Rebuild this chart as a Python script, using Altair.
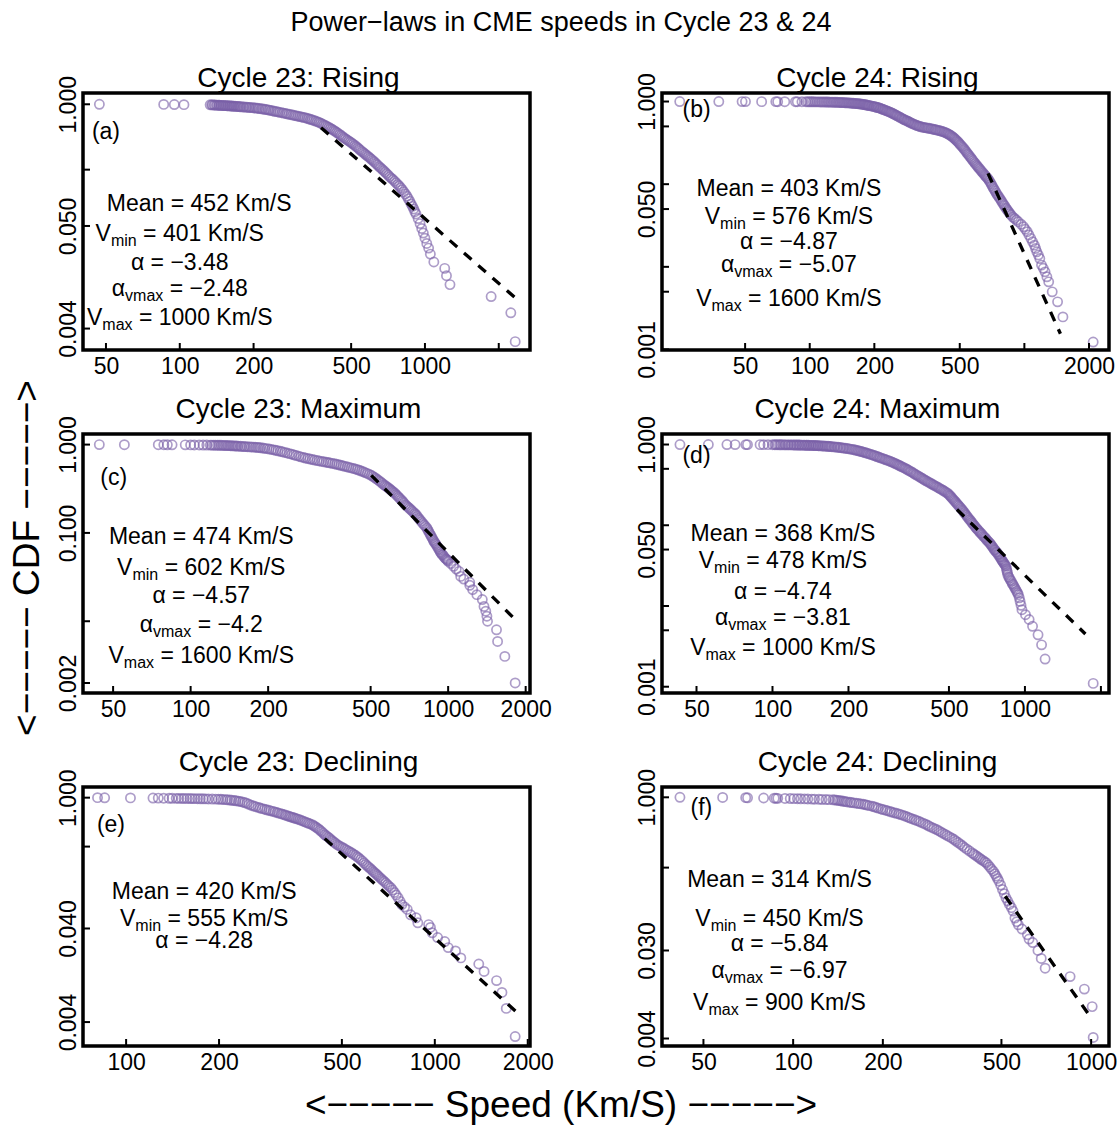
import altair as alt
import pandas as pd

FONT = "Liberation Sans"
PURPLE = "#7a61a8"

# ---------------- Panel (a): Cycle 23 Rising  (speed km/s, CDF) ----------------
points_a = [
    (47, 1.000), (86, 0.997), (95, 0.994), (104, 0.991), (133, 0.988), (135, 0.986), (136, 0.985),
    (138, 0.983), (139, 0.982), (141, 0.980), (142, 0.979), (144, 0.977), (145, 0.976), (147, 0.974),
    (148, 0.973), (150, 0.971), (151, 0.970), (153, 0.968), (154, 0.967), (156, 0.965), (157, 0.964),
    (159, 0.962), (160, 0.961), (162, 0.959), (163, 0.958), (165, 0.956), (166, 0.955), (168, 0.952),
    (170, 0.950), (172, 0.947), (174, 0.945), (176, 0.942), (178, 0.940), (181, 0.937), (183, 0.935),
    (186, 0.932), (188, 0.930), (191, 0.927), (193, 0.925), (196, 0.921), (199, 0.918), (202, 0.914),
    (205, 0.910), (208, 0.905), (211, 0.900), (215, 0.895), (218, 0.890), (222, 0.884), (225, 0.878),
    (229, 0.872), (232, 0.866), (236, 0.857), (240, 0.848), (244, 0.841), (248, 0.835), (252, 0.827),
    (256, 0.820), (261, 0.812), (265, 0.805), (270, 0.797), (274, 0.790), (279, 0.782), (284, 0.775),
    (289, 0.767), (294, 0.760), (299, 0.752), (304, 0.745), (309, 0.738), (314, 0.732), (319, 0.725),
    (324, 0.718), (330, 0.709), (335, 0.700), (341, 0.691), (346, 0.682), (352, 0.672), (358, 0.662),
    (364, 0.651), (370, 0.640), (376, 0.627), (382, 0.615), (388, 0.602), (394, 0.590), (400, 0.577),
    (406, 0.565), (412, 0.552), (418, 0.540), (424, 0.527), (430, 0.515), (436, 0.502), (442, 0.490),
    (449, 0.476), (455, 0.463), (462, 0.450), (468, 0.437), (475, 0.426), (482, 0.415), (489, 0.405),
    (496, 0.395), (503, 0.385), (510, 0.375), (518, 0.363), (525, 0.352), (533, 0.341), (540, 0.330),
    (548, 0.320), (556, 0.310), (564, 0.301), (572, 0.292), (580, 0.283), (588, 0.275), (597, 0.266),
    (605, 0.258), (614, 0.250), (622, 0.242), (631, 0.233), (640, 0.225), (649, 0.217), (658, 0.210),
    (668, 0.203), (677, 0.196), (687, 0.189), (697, 0.182), (708, 0.175), (718, 0.168), (729, 0.162),
    (740, 0.157), (751, 0.151), (762, 0.145), (774, 0.139), (785, 0.134), (797, 0.128), (808, 0.122),
    (820, 0.116), (832, 0.110), (844, 0.104), (855, 0.098), (867, 0.092), (878, 0.086), (889, 0.081),
    (900, 0.076), (910, 0.071), (920, 0.067), (938, 0.060), (955, 0.053), (970, 0.047), (985, 0.042),
    (1000, 0.037), (1017, 0.0325), (1035, 0.0290), (1052, 0.0250), (1087, 0.0206), (1204, 0.0176),
    (1224, 0.0147), (1265, 0.0118), (1862, 0.0088), (2240, 0.0059), (2334, 0.0029)]
fit_a = [(377, 0.562), (2351, 0.0084)]

# ---------------- Panel (b): Cycle 24 Rising ----------------
points_b = [
    (24.8, 1.000), (37.7, 0.999), (48.4, 0.998), (50.2, 0.998), (59.7, 0.997), (69.5, 0.997),
    (70.9, 0.996), (76.5, 0.996), (85.8, 0.995), (87.5, 0.995), (92, 0.994), (96, 0.994), (98, 0.993),
    (100, 0.993), (102, 0.992), (104, 0.992), (106, 0.991), (108, 0.991), (110, 0.990), (112, 0.989),
    (114, 0.989), (116, 0.988), (118, 0.987), (120, 0.986), (122, 0.985), (124, 0.984), (126, 0.983),
    (128, 0.982), (130, 0.981), (132, 0.980), (134, 0.978), (136, 0.977), (138, 0.975), (140, 0.974),
    (142, 0.972), (144, 0.970), (146, 0.968), (148, 0.966), (150, 0.964), (152, 0.962), (154, 0.960),
    (156, 0.957), (158, 0.955), (160, 0.952), (162, 0.950), (164, 0.947), (166, 0.944), (168, 0.941),
    (170, 0.938), (172, 0.934), (174, 0.931), (176, 0.927), (178, 0.922), (180, 0.917), (182, 0.912),
    (184, 0.907), (186, 0.903), (188, 0.898), (190, 0.893), (193, 0.886), (195, 0.880), (198, 0.873),
    (200, 0.866), (203, 0.859), (205, 0.852), (208, 0.845), (210, 0.838), (213, 0.829), (215, 0.820),
    (218, 0.810), (220, 0.800), (223, 0.790), (226, 0.780), (229, 0.770), (232, 0.760), (235, 0.749),
    (238, 0.738), (241, 0.727), (244, 0.715), (247, 0.704), (250, 0.692), (253, 0.681), (256, 0.670),
    (260, 0.657), (263, 0.645), (267, 0.632), (270, 0.620), (274, 0.610), (277, 0.600), (281, 0.591),
    (284, 0.582), (288, 0.573), (291, 0.565), (295, 0.555), (299, 0.545), (303, 0.536), (307, 0.528),
    (312, 0.520), (316, 0.512), (321, 0.506), (325, 0.500), (330, 0.495), (335, 0.490), (340, 0.486),
    (345, 0.483), (350, 0.480), (355, 0.477), (360, 0.474), (366, 0.470), (371, 0.466), (377, 0.462),
    (383, 0.458), (388, 0.454), (394, 0.450), (400, 0.446), (406, 0.441), (412, 0.436), (418, 0.431),
    (424, 0.425), (430, 0.419), (436, 0.413), (441, 0.406), (447, 0.398), (452, 0.390), (458, 0.382),
    (463, 0.373), (469, 0.364), (474, 0.354), (480, 0.344), (485, 0.334), (491, 0.324), (496, 0.313),
    (502, 0.303), (508, 0.293), (514, 0.283), (520, 0.273), (526, 0.263), (532, 0.253), (538, 0.243),
    (544, 0.234), (550, 0.226), (556, 0.217), (563, 0.209), (569, 0.201), (576, 0.193), (583, 0.185),
    (590, 0.178), (597, 0.171), (604, 0.165), (611, 0.159), (618, 0.154), (625, 0.148), (632, 0.143),
    (640, 0.138), (647, 0.133), (655, 0.128), (662, 0.124), (670, 0.120), (677, 0.116), (685, 0.111),
    (692, 0.106), (700, 0.101), (707, 0.096), (715, 0.091), (722, 0.087), (730, 0.083), (738, 0.079),
    (746, 0.075), (755, 0.072), (763, 0.069), (772, 0.066), (781, 0.063), (790, 0.060), (799, 0.057),
    (808, 0.055), (818, 0.052), (827, 0.050), (837, 0.048), (847, 0.046), (857, 0.044), (868, 0.0423),
    (884, 0.040), (900, 0.0385), (918, 0.0368), (937, 0.0351), (965, 0.0328), (992, 0.0305),
    (1010, 0.0285), (1031, 0.0266), (1050, 0.0243), (1071, 0.0221), (1092, 0.0201), (1113, 0.0183),
    (1128, 0.0167), (1143, 0.0152), (1162, 0.0139), (1180, 0.0126), (1202, 0.0105), (1225, 0.0096),
    (1248, 0.0087), (1273, 0.00757), (1298, 0.00658), (1348, 0.00498), (1428, 0.00377),
    (1512, 0.00248), (2092, 0.00123)]
fit_b = [(677, 0.135), (1472, 0.00155)]

# ---------------- Panel (c): Cycle 23 Maximum ----------------
points_c = [
    (44.2, 1.000), (55.3, 0.998), (74.9, 0.997), (78.7, 0.996), (81.2, 0.995), (84.7, 0.994),
    (95.3, 0.993), (100, 0.992), (103.3, 0.991), (108, 0.990), (111.8, 0.989), (115.5, 0.988),
    (119.2, 0.987), (121, 0.986), (123.1, 0.985), (125, 0.984), (127.2, 0.983), (129, 0.982),
    (131.2, 0.981), (133, 0.980), (135, 0.978), (137, 0.976), (139, 0.975), (141, 0.973), (143, 0.971),
    (145, 0.969), (147, 0.967), (149, 0.965), (151, 0.963), (153, 0.960), (156, 0.957), (158, 0.954),
    (161, 0.951), (163, 0.948), (166, 0.945), (169, 0.942), (172, 0.939), (175, 0.936), (178, 0.933),
    (181, 0.930), (184, 0.926), (187, 0.920), (191, 0.914), (194, 0.907), (198, 0.900), (202, 0.891),
    (206, 0.882), (210, 0.872), (214, 0.862), (218, 0.851), (223, 0.840), (227, 0.828), (232, 0.815),
    (237, 0.803), (242, 0.790), (247, 0.778), (252, 0.765), (257, 0.752), (263, 0.738), (268, 0.726),
    (274, 0.714), (279, 0.704), (285, 0.695), (291, 0.686), (297, 0.677), (303, 0.668), (310, 0.660),
    (316, 0.652), (323, 0.645), (329, 0.638), (336, 0.632), (342, 0.626), (348, 0.620), (355, 0.613),
    (362, 0.606), (369, 0.598), (376, 0.590), (383, 0.583), (390, 0.575), (397, 0.567), (405, 0.560),
    (412, 0.552), (420, 0.545), (428, 0.537), (436, 0.530), (444, 0.521), (452, 0.512), (460, 0.502),
    (468, 0.493), (476, 0.482), (485, 0.472), (494, 0.460), (503, 0.449), (510, 0.437), (518, 0.425),
    (525, 0.412), (533, 0.400), (540, 0.388), (548, 0.376), (555, 0.364), (563, 0.352), (570, 0.343),
    (577, 0.334), (584, 0.325), (591, 0.317), (598, 0.308), (605, 0.300), (612, 0.291), (620, 0.283),
    (627, 0.273), (635, 0.263), (642, 0.254), (650, 0.245), (658, 0.236), (666, 0.227), (674, 0.218),
    (682, 0.209), (690, 0.202), (699, 0.196), (707, 0.190), (716, 0.184), (724, 0.178), (733, 0.172),
    (742, 0.166), (751, 0.161), (759, 0.154), (768, 0.147), (777, 0.141), (787, 0.135), (796, 0.129),
    (806, 0.124), (816, 0.119), (826, 0.114), (833, 0.109), (840, 0.104), (847, 0.099), (854, 0.095),
    (861, 0.091), (868, 0.087), (875, 0.083), (881, 0.080), (888, 0.077), (895, 0.075), (903, 0.072),
    (910, 0.069), (918, 0.066), (925, 0.064), (932, 0.061), (939, 0.059), (947, 0.057), (955, 0.056),
    (963, 0.054), (972, 0.052), (980, 0.051), (987, 0.050), (994, 0.049), (1001, 0.0477),
    (1025, 0.045), (1050, 0.0419), (1075, 0.039), (1102, 0.0367), (1119, 0.0322), (1150, 0.0300),
    (1213, 0.0276), (1213, 0.0255), (1245, 0.0228), (1293, 0.0200), (1357, 0.0176), (1378, 0.0147),
    (1400, 0.0130), (1414, 0.0114), (1422, 0.0100), (1541, 0.0080), (1556, 0.0059), (1660, 0.0040),
    (1821, 0.0020)]
fit_c = [(503, 0.449), (1839, 0.01016)]

# ---------------- Panel (d): Cycle 24 Maximum ----------------
points_d = [
    (43, 1.000), (55.7, 0.999), (66, 0.999), (71.1, 0.998), (78.4, 0.998), (79.6, 0.997),
    (89.3, 0.997), (92.2, 0.996), (96, 0.996), (100, 0.995), (102, 0.995), (103.3, 0.994),
    (105, 0.994), (106.7, 0.993), (108, 0.993), (110, 0.992), (112, 0.991), (113, 0.991), (115, 0.990),
    (116, 0.990), (118, 0.989), (119, 0.989), (121, 0.988), (122, 0.988), (124, 0.987), (125, 0.986),
    (127, 0.985), (128, 0.985), (130, 0.984), (131, 0.983), (133, 0.982), (134, 0.981), (136, 0.980),
    (137, 0.979), (139, 0.978), (140, 0.977), (142, 0.976), (143, 0.975), (145, 0.974), (146, 0.973),
    (148, 0.971), (149, 0.970), (151, 0.968), (152, 0.967), (154, 0.965), (156, 0.963), (158, 0.961),
    (160, 0.958), (162, 0.956), (164, 0.953), (166, 0.950), (168, 0.947), (170, 0.944), (172, 0.940),
    (175, 0.936), (177, 0.932), (180, 0.928), (182, 0.923), (185, 0.918), (187, 0.913), (190, 0.908),
    (192, 0.902), (195, 0.897), (198, 0.891), (201, 0.884), (204, 0.877), (207, 0.870), (210, 0.862),
    (213, 0.854), (216, 0.845), (219, 0.836), (222, 0.827), (225, 0.818), (228, 0.808), (231, 0.799),
    (234, 0.789), (237, 0.780), (240, 0.770), (244, 0.759), (247, 0.748), (251, 0.737), (254, 0.726),
    (258, 0.715), (261, 0.704), (265, 0.694), (268, 0.683), (272, 0.673), (276, 0.662), (280, 0.652),
    (284, 0.641), (288, 0.631), (292, 0.621), (296, 0.610), (300, 0.599), (304, 0.588), (308, 0.577),
    (312, 0.566), (316, 0.555), (320, 0.545), (324, 0.534), (328, 0.524), (333, 0.513), (337, 0.502),
    (342, 0.490), (346, 0.479), (351, 0.468), (355, 0.458), (360, 0.447), (364, 0.436), (369, 0.425),
    (374, 0.415), (379, 0.405), (384, 0.395), (389, 0.386), (394, 0.376), (399, 0.367), (404, 0.358),
    (410, 0.350), (415, 0.342), (421, 0.334), (426, 0.326), (432, 0.319), (437, 0.312), (443, 0.305),
    (449, 0.298), (455, 0.291), (461, 0.284), (467, 0.278), (473, 0.271), (479, 0.265), (485, 0.258),
    (492, 0.252), (497, 0.244), (502, 0.236), (507, 0.229), (512, 0.221), (517, 0.213), (522, 0.206),
    (527, 0.199), (532, 0.193), (537, 0.186), (542, 0.180), (547, 0.174), (553, 0.168), (558, 0.162),
    (564, 0.156), (569, 0.150), (575, 0.144), (580, 0.138), (586, 0.133), (591, 0.128), (597, 0.123),
    (603, 0.118), (609, 0.114), (615, 0.109), (621, 0.105), (627, 0.101), (634, 0.097), (640, 0.093),
    (646, 0.090), (652, 0.087), (659, 0.084), (665, 0.081), (672, 0.079), (678, 0.076), (685, 0.073),
    (692, 0.071), (699, 0.069), (705, 0.066), (712, 0.064), (719, 0.062), (726, 0.060), (732, 0.058),
    (738, 0.056), (744, 0.054), (750, 0.052), (756, 0.050), (762, 0.049), (768, 0.047), (775, 0.046),
    (781, 0.044), (788, 0.043), (794, 0.041), (800, 0.040), (805, 0.038), (810, 0.037), (815, 0.036),
    (820, 0.035), (825, 0.034), (830, 0.033), (836, 0.032), (841, 0.031), (845, 0.029), (848, 0.0275),
    (852, 0.026), (855, 0.0245), (862, 0.023), (868, 0.0222), (875, 0.021), (883, 0.0202),
    (890, 0.019), (897, 0.0184), (905, 0.0175), (912, 0.0167), (920, 0.016), (927, 0.0152),
    (935, 0.0145), (942, 0.0138), (950, 0.0126), (957, 0.0114), (965, 0.0102), (973, 0.0090),
    (1005, 0.0078), (1039, 0.0068), (1072, 0.0056), (1127, 0.0044), (1164, 0.0033), (1202, 0.0022),
    (1864, 0.0011)]
fit_d = [(538, 0.1566), (1736, 0.0045)]

# ---------------- Panel (e): Cycle 23 Declining ----------------
points_e = [
    (80.8, 1.000), (85.2, 0.997), (103.3, 0.994), (122.2, 0.991), (127.1, 0.989), (132.3, 0.987),
    (137.8, 0.985), (141, 0.984), (145.3, 0.983), (148, 0.982), (151.2, 0.981), (154, 0.980),
    (157.4, 0.979), (161, 0.978), (163.9, 0.977), (167, 0.976), (170.5, 0.975), (174, 0.973),
    (177.5, 0.972), (181, 0.970), (184.8, 0.969), (190, 0.967), (195, 0.965), (199, 0.962),
    (202.8, 0.960), (206, 0.956), (210, 0.952), (213, 0.948), (217, 0.943), (220, 0.938), (224, 0.932),
    (227, 0.925), (231, 0.918), (234, 0.910), (238, 0.900), (242, 0.886), (246, 0.870), (250, 0.850),
    (254.6, 0.828), (259, 0.814), (263, 0.800), (268, 0.787), (272, 0.775), (276, 0.763), (281, 0.752),
    (285, 0.742), (290, 0.733), (294, 0.723), (299, 0.714), (303, 0.704), (308, 0.694), (312, 0.684),
    (317, 0.675), (321, 0.665), (326, 0.656), (330, 0.646), (335, 0.636), (339, 0.628), (343, 0.620),
    (347, 0.613), (351, 0.606), (355, 0.598), (360, 0.590), (365, 0.580), (370, 0.570), (375, 0.560),
    (380, 0.551), (385, 0.541), (390, 0.532), (395, 0.523), (401, 0.515), (405, 0.502), (410, 0.490),
    (415, 0.476), (420, 0.463), (425, 0.448), (430, 0.434), (435, 0.418), (440, 0.403), (445, 0.391),
    (451, 0.380), (456, 0.368), (461, 0.356), (466, 0.345), (472, 0.335), (477, 0.325), (483, 0.315),
    (489, 0.307), (496, 0.300), (503, 0.292), (510, 0.284), (517, 0.277), (524, 0.270), (531, 0.263),
    (538, 0.257), (545, 0.249), (553, 0.242), (560, 0.234), (567, 0.227), (575, 0.218), (583, 0.210),
    (590, 0.201), (598, 0.193), (605, 0.186), (612, 0.180), (619, 0.174), (626, 0.168), (633, 0.162),
    (640, 0.157), (647, 0.152), (654, 0.147), (661, 0.142), (669, 0.137), (676, 0.132), (684, 0.128),
    (693, 0.123), (702, 0.118), (711, 0.113), (721, 0.109), (730, 0.103), (740, 0.097), (750, 0.091),
    (761, 0.085), (772, 0.078), (782, 0.072), (798, 0.068), (814, 0.064), (835, 0.056), (870, 0.052),
    (881, 0.046), (955, 0.044), (968, 0.041), (981, 0.036), (1021, 0.032), (1077, 0.029),
    (1105, 0.025), (1167, 0.023), (1214, 0.0194), (1388, 0.0167), (1444, 0.0139), (1585, 0.0111),
    (1650, 0.0083), (1704, 0.0056), (1821, 0.0028)]
fit_e = [(440, 0.365), (1836, 0.00515)]

# ---------------- Panel (f): Cycle 24 Declining ----------------
points_f = [
    (41.7, 1.000), (58, 0.996), (69.3, 0.992), (70.3, 0.988), (79.6, 0.984), (86.4, 0.980),
    (87.6, 0.978), (88.8, 0.976), (93.9, 0.974), (97.8, 0.972), (100.6, 0.970), (103.4, 0.968),
    (106, 0.966), (109.2, 0.964), (112, 0.962), (115.4, 0.960), (118, 0.958), (122, 0.955),
    (125, 0.952), (128.8, 0.950), (132, 0.948), (136, 0.945), (138, 0.940), (140, 0.935), (142, 0.930),
    (144, 0.925), (146, 0.918), (148, 0.912), (150, 0.905), (152, 0.899), (155, 0.893), (157, 0.887),
    (160, 0.880), (163, 0.874), (166, 0.867), (169, 0.860), (172, 0.853), (174.5, 0.846), (177, 0.836),
    (180, 0.826), (184, 0.815), (187, 0.805), (190, 0.792), (193, 0.780), (197, 0.767), (200, 0.755),
    (204, 0.745), (207, 0.735), (211, 0.724), (214, 0.714), (218, 0.703), (222, 0.693), (226, 0.683),
    (230, 0.673), (234, 0.661), (238, 0.649), (242, 0.637), (246, 0.625), (250, 0.613), (255, 0.601),
    (259, 0.589), (264, 0.578), (268, 0.565), (273, 0.553), (278, 0.540), (283, 0.527), (287, 0.514),
    (292, 0.502), (297, 0.490), (303, 0.478), (308, 0.465), (313, 0.453), (318, 0.440), (324, 0.428),
    (329, 0.416), (335, 0.404), (341, 0.392), (347, 0.380), (352, 0.367), (358, 0.355), (364, 0.342),
    (370, 0.330), (376, 0.317), (383, 0.305), (391, 0.292), (399, 0.280), (404, 0.272), (410, 0.264),
    (416, 0.256), (422, 0.249), (427, 0.242), (433, 0.236), (439, 0.229), (445, 0.223), (451, 0.213),
    (457, 0.203), (463, 0.193), (470, 0.184), (475, 0.174), (480, 0.165), (485, 0.156), (490, 0.147),
    (497, 0.134), (504, 0.121), (511, 0.110), (518, 0.100), (525, 0.093), (532, 0.086), (540, 0.080),
    (547, 0.074), (555, 0.063), (563, 0.058), (570, 0.054), (586, 0.049), (611, 0.043), (619, 0.039),
    (637, 0.036), (663, 0.030), (680, 0.025), (701, 0.020), (850, 0.0165), (949, 0.0124),
    (1008, 0.0083), (1016, 0.0041)]
fit_f = [(515, 0.104), (1008, 0.0062)]

# ---------------- text ----------------
main_title = "Power\u2212laws in CME speeds in Cycle 23 & 24"
ylab_text = "<\u2212\u2212\u2212\u2212\u2212 CDF \u2212\u2212\u2212\u2212\u2212>"
xlab_text = "<\u2212\u2212\u2212\u2212\u2212 Speed (Km/S) \u2212\u2212\u2212\u2212\u2212>"
panel_titles = ["Cycle 23: Rising", "Cycle 24: Rising", "Cycle 23: Maximum",
                "Cycle 24: Maximum", "Cycle 23: Declining", "Cycle 24: Declining"]
tags = ["(a)", "(b)", "(c)", "(d)", "(e)", "(f)"]

ann_a = ["Mean = 452 Km/S", "V_{min} = 401 Km/S", "\u03b1 = \u22123.48",
         "\u03b1_{vmax} = \u22122.48", "V_{max} = 1000 Km/S"]
ann_b = ["Mean = 403 Km/S", "V_{min} = 576 Km/S", "\u03b1 = \u22124.87",
         "\u03b1_{vmax} = \u22125.07", "V_{max} = 1600 Km/S"]
ann_c = ["Mean = 474 Km/S", "V_{min} = 602 Km/S", "\u03b1 = \u22124.57",
         "\u03b1_{vmax} = \u22124.2", "V_{max} = 1600 Km/S"]
ann_d = ["Mean = 368 Km/S", "V_{min} = 478 Km/S", "\u03b1 = \u22124.74",
         "\u03b1_{vmax} = \u22123.81", "V_{max} = 1000 Km/S"]
ann_e = ["Mean = 420 Km/S", "V_{min} = 555 Km/S", "\u03b1 = \u22124.28"]
ann_f = ["Mean = 314 Km/S", "V_{min} = 450 Km/S", "\u03b1 = \u22125.84",
         "\u03b1_{vmax} = \u22126.97", "V_{max} = 900 Km/S"]

# ---------------- layout / style ----------------
COL_W = 447
ROW_H = [257, 259, 259]
LEFT_W = 82
GAP_COL = 132
TOP_H = 92
GAP_ROWS = [84, 94]
BOTTOM_H = 92

FS = 23
FS_SUB = 16
SUB_DY = 7

CHAR_W = {" ": 278, "(": 333, ")": 333, ".": 278, "/": 278, "=": 584, "\u2212": 584,
          "-": 333, "K": 667, "M": 833, "S": 667, "V": 667, "a": 556, "e": 556, "i": 222,
          "m": 833, "n": 556, "x": 500, "v": 500, "\u03b1": 578}


def text_w(s, size):
    return sum(CHAR_W.get(ch, 556) for ch in s) * size / 1000.0


def pieces_of(line):
    out, buf, i = [], "", 0
    while i < len(line):
        if line[i] == "_" and i + 1 < len(line) and line[i + 1] == "{":
            if buf:
                out.append((buf, False))
                buf = ""
            j = line.index("}", i)
            out.append((line[i + 2:j], True))
            i = j + 1
        else:
            buf += line[i]
            i += 1
    if buf:
        out.append((buf, False))
    return out


def panel(p):
    W, H = p["w"], p["h"]
    xs = alt.Scale(type="log", domain=p["xdom"], nice=False)
    ys = alt.Scale(type="log", domain=p["ydom"], nice=False)
    xl = ",".join(repr(float(v)) for v in p["xlab"])
    yl = ",".join(repr(float(v)) for v in p["ylab"])
    xaxis = alt.Axis(values=p["xticks"], title=None, grid=False, ticks=False, tickSize=0,
                     domain=False, labelFont=FONT, labelFontSize=FS, labelColor="black",
                     labelPadding=5, labelOverlap=False, labelFlush=False,
                     labelAlign="center", labelBaseline="top",
                     labelExpr=f"indexof([{xl}], datum.value) >= 0 ? format(datum.value, 'd') : ''")
    yaxis = alt.Axis(values=p["yticks"], title=None, grid=False, ticks=False, tickSize=0,
                     domain=False, labelFont=FONT, labelFontSize=FS, labelColor="black",
                     labelPadding=8, labelOverlap=False, labelFlush=False, labelAngle=270,
                     labelAlign="center", labelBaseline="alphabetic",
                     labelExpr=f"indexof([{yl}], datum.value) >= 0 ? format(datum.value, '.3f') : ''")

    def X():
        return alt.X("v:Q", scale=xs, axis=xaxis)

    def Y():
        return alt.Y("c:Q", scale=ys, axis=yaxis)

    pts_df = pd.DataFrame(p["points"], columns=["v", "c"])
    fit_df = pd.DataFrame(p["fit"], columns=["v", "c"])
    pts = alt.Chart(pts_df).mark_point(
        shape="circle", filled=False, size=85, strokeWidth=1.7, color=PURPLE,
        opacity=1, strokeOpacity=0.62).encode(x=X(), y=Y())
    fit = alt.Chart(fit_df).mark_line(
        color="black", strokeWidth=3.3, strokeDash=[10, 9]).encode(x=X(), y=Y())
    xt = alt.Chart(pd.DataFrame({"v": p["xticks"]})).mark_rule(
        color="black", strokeWidth=2).encode(x=X(), y=alt.value(H), y2=alt.value(H - 7))
    yt = alt.Chart(pd.DataFrame({"c": p["yticks"]})).mark_rule(
        color="black", strokeWidth=2).encode(y=Y(), x=alt.value(0), x2=alt.value(7))
    layers = [pts, fit, xt, yt]

    # annotation lines (centred, with subscripts)
    for line, av, ac in zip(p["ann"], p["ann_v"], p["ann_c"]):
        ps = pieces_of(line)
        sizes = [FS_SUB if s else FS for _, s in ps]
        total = sum(text_w(t, sz) for (t, _), sz in zip(ps, sizes))
        x = -total / 2.0
        for (t, sub), sz in zip(ps, sizes):
            lead = len(t) - len(t.lstrip(" "))
            xs0 = x + text_w(" " * lead, sz)
            txt = t.strip(" ")
            if txt:
                df = pd.DataFrame({"v": [av], "c": [ac], "t": [txt]})
                layers.append(alt.Chart(df).mark_text(
                    align="left", baseline="middle", dx=xs0, dy=SUB_DY if sub else 0,
                    fontSize=sz, font=FONT, color="black").encode(x=X(), y=Y(), text="t:N"))
            x += text_w(t, sz)

    # panel tag
    layers.append(alt.Chart(pd.DataFrame({"v": [p["tag_v"]], "c": [p["tag_c"]], "t": [p["tag"]]}))
                  .mark_text(align="center", baseline="middle", fontSize=FS, font=FONT, color="black")
                  .encode(x=X(), y=Y(), text="t:N"))
    # panel title
    layers.append(alt.Chart(pd.DataFrame({"t": [p["title"]]}))
                  .mark_text(align="center", baseline="alphabetic", fontSize=28, font=FONT, color="black")
                  .encode(text="t:N", x=alt.value(W / 2 - 8), y=alt.value(-p["title_gap"])))
    return alt.layer(*layers).properties(
        width=W, height=H, view=alt.ViewBackground(stroke="black", strokeWidth=3.5))


def spacer(w, h, text="", x=None, y=None, size=28, angle=0):
    x = w / 2 if x is None else x
    y = h / 2 if y is None else y
    return alt.Chart(pd.DataFrame({"t": [text]})).mark_text(
        font=FONT, fontSize=size, angle=angle, align="center", baseline="middle",
        color="black").encode(text="t:N", x=alt.value(x), y=alt.value(y)).properties(width=w, height=h)


P = {}
P["a"] = dict(points=points_a, fit=fit_a,
              xdom=[40.3, 2682], ydom=[0.00236, 1.32],
              xticks=[50, 100, 200, 500, 1000, 2000], xlab=[50, 100, 200, 500, 1000],
              yticks=[1, 0.2, 0.05, 0.004], ylab=[1, 0.05, 0.004],
              ann=ann_a, ann_v=[120, 100, 100, 100, 100],
              ann_c=[0.0865, 0.0407, 0.0202, 0.0105, 0.00522],
              tag=tags[0], tag_v=50, tag_c=0.5, title=panel_titles[0],
              w=COL_W, h=ROW_H[0], title_gap=6)
P["b"] = dict(points=points_b, fit=fit_b,
              xdom=[20.5, 2479], ydom=[0.000986, 1.268],
              xticks=[50, 100, 200, 500, 1000, 2000], xlab=[50, 100, 200, 500, 2000],
              yticks=[1, 0.5, 0.1, 0.05, 0.01, 0.005, 0.001], ylab=[1, 0.05, 0.001],
              ann=ann_b, ann_v=[80, 80, 80, 80, 80],
              ann_c=[0.0865, 0.0404, 0.0201, 0.0105, 0.00406],
              tag=tags[1], tag_v=29.7, tag_c=0.79, title=panel_titles[1],
              w=COL_W, h=ROW_H[0], title_gap=6)
P["c"] = dict(points=points_c, fit=fit_c,
              xdom=[38.2, 2079], ydom=[0.00154, 1.318],
              xticks=[50, 100, 200, 500, 1000, 2000], xlab=[50, 100, 200, 500, 1000, 2000],
              yticks=[1, 0.1, 0.01, 0.002], ylab=[1, 0.1, 0.002],
              ann=ann_c, ann_v=[110, 110, 110, 110, 110],
              ann_c=[0.0892, 0.040, 0.0191, 0.009, 0.004],
              tag=tags[2], tag_v=50.3, tag_c=0.418, title=panel_titles[2],
              w=COL_W, h=ROW_H[1], title_gap=16)
P["d"] = dict(points=points_d, fit=fit_d,
              xdom=[36.5, 2153], ydom=[0.000836, 1.35],
              xticks=[50, 100, 200, 500, 1000, 2000], xlab=[50, 100, 200, 500, 1000],
              yticks=[1, 0.5, 0.1, 0.05, 0.01, 0.005, 0.001], ylab=[1, 0.05, 0.001],
              ann=ann_d, ann_v=[110, 110, 110, 110, 110],
              ann_c=[0.078, 0.0358, 0.0148, 0.0071, 0.003],
              tag=tags[3], tag_v=50, tag_c=0.716, title=panel_titles[3],
              w=COL_W, h=ROW_H[1], title_gap=16)
P["e"] = dict(points=points_e, fit=fit_e,
              xdom=[72.5, 2034], ydom=[0.00222, 1.30],
              xticks=[100, 200, 500, 1000, 2000], xlab=[100, 200, 500, 1000, 2000],
              yticks=[1, 0.3, 0.04, 0.004], ylab=[1, 0.04, 0.004],
              ann=ann_e, ann_v=[179, 179, 179],
              ann_c=[0.0983, 0.0499, 0.0293],
              tag=tags[4], tag_v=89.3, tag_c=0.506, title=panel_titles[4],
              w=COL_W, h=ROW_H[2], title_gap=16)
P["f"] = dict(points=points_f, fit=fit_f,
              xdom=[36.3, 1148], ydom=[0.00337, 1.266],
              xticks=[50, 100, 200, 500, 1000], xlab=[50, 100, 200, 500, 1000],
              yticks=[1, 0.2, 0.03, 0.004], ylab=[1, 0.03, 0.004],
              ann=ann_f, ann_v=[90, 90, 90, 90, 90],
              ann_c=[0.149, 0.061, 0.0349, 0.0187, 0.00907],
              tag=tags[5], tag_v=49.2, tag_c=0.783, title=panel_titles[5],
              w=COL_W, h=ROW_H[2], title_gap=16)

cx = 560 - LEFT_W  # centre of the whole figure, relative to column 1
cells = []
# row 0: top margin with main title
cells += [spacer(LEFT_W, TOP_H), spacer(COL_W, TOP_H, main_title, x=cx, y=22, size=27),
          spacer(GAP_COL, TOP_H), spacer(COL_W, TOP_H)]
# row 1
cells += [spacer(LEFT_W, ROW_H[0]), panel(P["a"]), spacer(GAP_COL, ROW_H[0]), panel(P["b"])]
# gap
cells += [spacer(LEFT_W, GAP_ROWS[0]), spacer(COL_W, GAP_ROWS[0]),
          spacer(GAP_COL, GAP_ROWS[0]), spacer(COL_W, GAP_ROWS[0])]
# row 2 (with the vertical axis label)
row2_top = TOP_H + ROW_H[0] + GAP_ROWS[0]
cells += [spacer(LEFT_W, ROW_H[1], ylab_text, x=27, y=557 - row2_top, size=37, angle=270),
          panel(P["c"]), spacer(GAP_COL, ROW_H[1]), panel(P["d"])]
# gap
cells += [spacer(LEFT_W, GAP_ROWS[1]), spacer(COL_W, GAP_ROWS[1]),
          spacer(GAP_COL, GAP_ROWS[1]), spacer(COL_W, GAP_ROWS[1])]
# row 3
cells += [spacer(LEFT_W, ROW_H[2]), panel(P["e"]), spacer(GAP_COL, ROW_H[2]), panel(P["f"])]
# bottom margin with x label
cells += [spacer(LEFT_W, BOTTOM_H), spacer(COL_W, BOTTOM_H, xlab_text, x=cx, y=60, size=37),
          spacer(GAP_COL, BOTTOM_H), spacer(COL_W, BOTTOM_H)]

chart = alt.concat(*cells, columns=4, spacing=0, bounds="flush", align="each").properties(
    padding=0, background="white").configure_view(stroke="transparent")

chart.save("out.html", embed_options={"renderer": "svg", "actions": False})
